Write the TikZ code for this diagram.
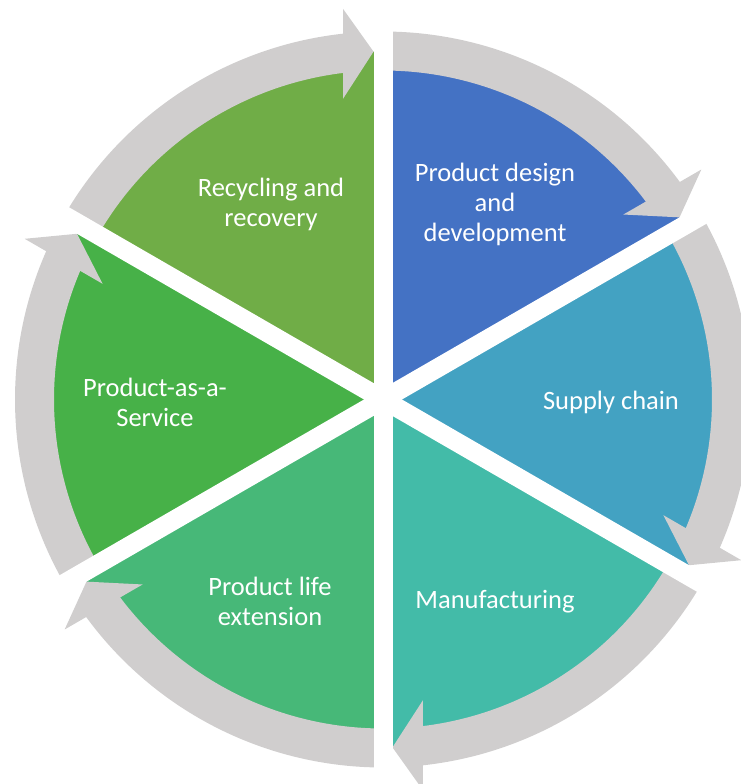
\documentclass[tikz,border=0pt]{standalone}
\usepackage{fontspec}
\setmainfont{Carlito}
\usetikzlibrary{calc}
\definecolor{cBlue}{HTML}{4472C4}
\definecolor{cSupply}{HTML}{43A2C2}
\definecolor{cManu}{HTML}{43BBA8}
\definecolor{cLife}{HTML}{47B878}
\definecolor{cPaas}{HTML}{47B148}
\definecolor{cRecy}{HTML}{70AD47}
\definecolor{ringgray}{HTML}{D0CECE}
\tikzset{
  lbl/.style={text=white, align=center, inner sep=0pt, font=\fontsize{26.5}{30}\selectfont}
}
\begin{document}
\begin{tikzpicture}[x=1pt,y=1pt]
\useasboundingbox (-383,-384.5) rectangle (358,399.5);
\coordinate (C) at (0,0);
% pie sectors
\fill[cBlue]   (C) -- (90:348)  arc[start angle=90,  end angle=30,  radius=348] -- cycle;
\fill[cSupply] (C) -- (30:348)  arc[start angle=30,  end angle=-30, radius=348] -- cycle;
\fill[cManu]   (C) -- (-30:348) arc[start angle=-30, end angle=-90, radius=348] -- cycle;
\fill[cLife]   (C) -- (-90:348) arc[start angle=-90, end angle=-150,radius=348] -- cycle;
\fill[cPaas]   (C) -- (-150:348) arc[start angle=-150,end angle=-210,radius=348] -- cycle;
\fill[cRecy]   (C) -- (150:348) arc[start angle=150, end angle=90,  radius=348] -- cycle;
% circular arrows
\foreach \s in {90,30,-30,-90,-150,-210} {
  \pgfmathsetmacro\e{\s-60}
  \pgfmathsetmacro\t{\e+1.56}
  \pgfmathsetmacro\b{\e+6.6}
  \pgfmathsetmacro\m{\e+5}
  \fill[ringgray] (\s:368) arc[start angle=\s, end angle=\m, radius=368]
     -- (\m:329) arc[start angle=\m, end angle=\s, radius=329] -- cycle;
  \fill[ringgray] ($(\b:348)+(\e:45)$) -- (\t:348) -- ($(\b:348)-(\e:45)$) -- cycle;
}
% white gaps
\foreach \a in {90,30,-30} {
  \draw[white, line width=19pt] (\a:420) -- (\a+180:420);
}
% labels
\node[lbl] (pd)   at (112,195)    {Product design\\and\\development};
\node[lbl] (sc)   at (228,-3)     {Supply chain};
\node[lbl] (mf)   at (112,-202)   {Manufacturing};
\node[lbl] (ple)  at (-113,-202)  {Product life\\extension};
\node[lbl] (paas) at (-228,-3)    {Product-as-a-\\Service};
\node[lbl] (rr)   at (-112,195)   {Recycling and\\recovery};
\end{tikzpicture}
\end{document}
